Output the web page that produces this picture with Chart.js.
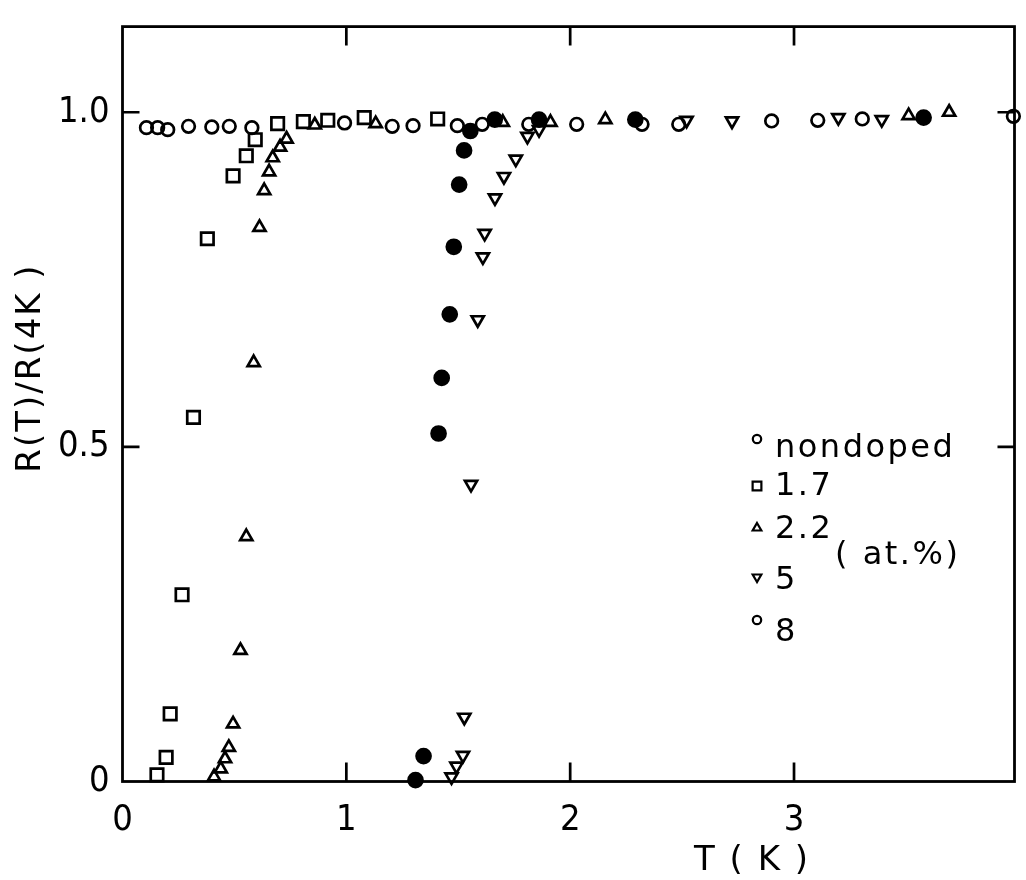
<!DOCTYPE html>
<html><head><meta charset="utf-8">
<script src="https://cdn.jsdelivr.net/npm/chart.js@4.4.0/dist/chart.umd.min.js"></script>
<style>html,body{margin:0;padding:0;background:#fff;}canvas{display:block;}</style>
</head><body>
<canvas id="c" width="1026" height="880"></canvas>
<script>
// ---- data ----
const xTickValues = [0, 1, 2, 3];
const xTickLabels = ['0', '1', '2', '3'];
const yTickValues = [0, 0.5, 1.0];
const yTickLabels = ['0', '0.5', '1.0'];
const seriesNames = ['nondoped', '1.7', '2.2', '5', '8'];
const unitNote = '( at.%)';
const xTitle = 'T ( K )';
const yTitle = 'R(T)/R(4K )';

const nondopedT = [0.107,0.157,0.202,0.295,0.399,0.477,0.578,0.992,1.205,1.298,1.496,1.607,1.815,2.029,2.321,2.485,2.900,3.106,3.305,3.980];
const nondopedR = [0.977,0.977,0.974,0.979,0.978,0.979,0.977,0.984,0.979,0.980,0.980,0.982,0.982,0.982,0.982,0.982,0.987,0.988,0.990,0.994];

const d17T = [0.154,0.195,0.213,0.266,0.317,0.379,0.494,0.553,0.593,0.693,0.808,0.917,1.080,1.408];
const d17R = [0.010,0.036,0.101,0.279,0.544,0.811,0.905,0.935,0.959,0.983,0.986,0.988,0.992,0.990];

const d22T = [0.409,0.439,0.458,0.475,0.494,0.527,0.553,0.586,0.612,0.633,0.655,0.671,0.704,0.733,0.859,1.131,1.699,1.912,2.157,3.512,3.693];
const d22R = [0.007,0.019,0.034,0.051,0.086,0.196,0.366,0.626,0.828,0.883,0.911,0.932,0.948,0.960,0.981,0.983,0.985,0.985,0.989,0.995,1.000];

const d5T = [1.470,1.492,1.521,1.527,1.557,1.587,1.610,1.618,1.664,1.704,1.757,1.809,1.861,2.520,2.723,3.198,3.392];
const d5R = [0.007,0.023,0.039,0.096,0.444,0.690,0.784,0.819,0.872,0.904,0.930,0.964,0.974,0.988,0.987,0.992,0.989];

const d8T = [1.309,1.345,1.412,1.426,1.462,1.480,1.504,1.526,1.554,1.663,1.861,2.291,3.579];
const d8R = [0.002,0.038,0.520,0.603,0.698,0.799,0.892,0.943,0.972,0.989,0.989,0.989,0.992];

const xMin = 0, xMax = 3.985, yMin = 0, yMax = 1.128;

// ---- build ----
const pts = (xs, ys) => xs.map((x, i) => ({x: x, y: ys[i]}));
const INK = '#000';
const TICK_FONT = "'Liberation Sans Narrow','DejaVu Sans Condensed','Liberation Sans',sans-serif";
const TEXT_FONT = "'DejaVu Sans','Liberation Sans',sans-serif";

const styles = [
  {pointStyle:'circle',   radius:6.3, rotation:0,   fill:'rgba(0,0,0,0)', legendFill:'#fff', lr:4.2},
  {pointStyle:'rect',     radius:8.8, rotation:0,   fill:'rgba(0,0,0,0)', legendFill:'#fff', lr:6.2},
  {pointStyle:'triangle', radius:7.0, rotation:0,   fill:'rgba(0,0,0,0)', legendFill:'#fff', lr:5.0},
  {pointStyle:'triangle', radius:7.0, rotation:180, fill:'rgba(0,0,0,0)', legendFill:'#fff', lr:5.0},
  {pointStyle:'circle',   radius:7.0, rotation:0,   fill:INK,             legendFill:'#fff', lr:4.2}
];
const series = [pts(nondopedT,nondopedR), pts(d17T,d17R), pts(d22T,d22R), pts(d5T,d5R), pts(d8T,d8R)];

const datasets = series.map((data, i) => ({
  label: seriesNames[i],
  data: data,
  showLine: false,
  pointStyle: styles[i].pointStyle,
  pointRadius: styles[i].radius,
  pointRotation: styles[i].rotation,
  pointBackgroundColor: styles[i].fill,
  pointBorderColor: INK,
  pointBorderWidth: 2.7,
  pointHoverRadius: styles[i].radius,
  clip: false
}));

const framePlugin = {
  id: 'frame',
  beforeDatasetsDraw(chart) {
    const {ctx, chartArea: a, scales: {x, y}} = chart;
    ctx.save();
    ctx.strokeStyle = INK;
    ctx.lineWidth = 2.8;
    ctx.strokeRect(a.left, a.top, a.right - a.left, a.bottom - a.top);
    ctx.lineWidth = 2.7;
    ctx.beginPath();
    xTickValues.forEach(v => {
      if (v === xMin) return;
      const px = x.getPixelForValue(v);
      ctx.moveTo(px, a.bottom); ctx.lineTo(px, a.bottom - 19);
      ctx.moveTo(px, a.top); ctx.lineTo(px, a.top + 19);
    });
    yTickValues.forEach(v => {
      if (v === yMin) return;
      const py = y.getPixelForValue(v);
      ctx.moveTo(a.left, py); ctx.lineTo(a.left + 17, py);
      ctx.moveTo(a.right, py); ctx.lineTo(a.right - 17, py);
    });
    ctx.stroke();
    ctx.restore();
  },
  afterDraw(chart) {
    const {ctx} = chart;
    ctx.save();
    ctx.fillStyle = INK;
    // axis titles
    ctx.font = "34px " + TEXT_FONT;
    ctx.textAlign = 'center';
    ctx.textBaseline = 'alphabetic';
    try { ctx.letterSpacing = '2px'; } catch(e) {}
    ctx.fillText(xTitle, 752, 870);
    ctx.translate(40, 368);
    ctx.rotate(-Math.PI / 2);
    ctx.fillText(yTitle, 0, 0);
    ctx.restore();

    // legend
    ctx.save();
    const mx = 757, tx = 775;
    const markerY = [439, 486, 528, 577, 620];
    const baseY = [457, 495, 538, 589, 641];
    ctx.font = "32px " + TEXT_FONT;
    try { ctx.letterSpacing = '2.5px'; } catch(e) {}
    ctx.textAlign = 'left';
    ctx.textBaseline = 'alphabetic';
    seriesNames.forEach((name, i) => {
      const s = styles[i];
      ctx.strokeStyle = INK;
      ctx.fillStyle = s.legendFill;
      ctx.lineWidth = 2.2;
      Chart.helpers.drawPoint(ctx, {pointStyle: s.pointStyle, radius: s.lr, rotation: s.rotation, borderWidth: 2.2}, mx, markerY[i]);
      ctx.fillStyle = INK;
      ctx.fillText(name, tx, baseY[i]);
    });
    ctx.fillText(unitNote, 835, 564);
    ctx.restore();
  }
};

new Chart(document.getElementById('c'), {
  type: 'scatter',
  data: {datasets: datasets},
  options: {
    responsive: false,
    animation: false,
    devicePixelRatio: 1,
    layout: {padding: {top: 10, right: 2, left: 0, bottom: 0}},
    plugins: {legend: {display: false}, tooltip: {enabled: false}, title: {display: false}},
    scales: {
      x: {
        type: 'linear', position: 'bottom', min: xMin, max: xMax,
        grid: {display: false}, border: {display: false},
        afterFit: s => { s.height = 98.5; },
        afterBuildTicks: s => { s.ticks = xTickValues.map(v => ({value: v})); },
        ticks: {
          color: INK, padding: 10, maxRotation: 0, autoSkip: false,
          font: {family: TICK_FONT, size: 36},
          callback: v => { const i = xTickValues.indexOf(v); return i >= 0 ? xTickLabels[i] : ''; }
        }
      },
      y: {
        type: 'linear', position: 'left', min: yMin, max: yMax,
        grid: {display: false}, border: {display: false},
        afterFit: s => { s.width = 122.5; },
        afterBuildTicks: s => { s.ticks = yTickValues.map(v => ({value: v})); },
        ticks: {
          color: INK, padding: 5, autoSkip: false,
          font: {family: TICK_FONT, size: 36},
          callback: v => { const i = yTickValues.indexOf(v); return i >= 0 ? yTickLabels[i] : ''; }
        }
      }
    }
  },
  plugins: [framePlugin]
});
</script>
</body></html>
